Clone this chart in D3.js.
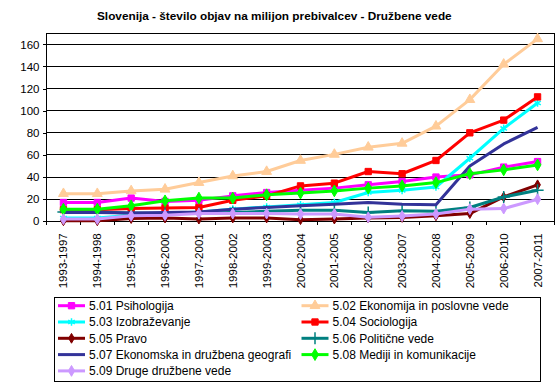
<!DOCTYPE html>
<html><head><meta charset="utf-8">
<script src="https://cdn.jsdelivr.net/npm/d3@7"></script>
<style>body{margin:0;background:#fff}svg text{font-family:"Liberation Sans",Arial,sans-serif}</style>
</head><body><svg id="c" width="559" height="390"></svg>
<script>
const categories = ["1993-1997","1994-1998","1995-1999","1996-2000","1997-2001","1998-2002","1999-2003","2000-2004","2001-2005","2002-2006","2003-2007","2004-2008","2005-2009","2006-2010","2007-2011"];
const psihologija = [17, 17, 21, 18, 19, 23, 26, 28, 30, 33, 36, 40, 42, 49, 54];
const ekonomija = [25, 25, 27.5, 29, 35, 41, 45, 55, 60.5, 67, 70.5, 86, 110, 142, 165];
const izobrazevanje = [3, 3, 5.5, 7, 8.5, 11, 13, 15, 17, 26, 28, 31, 57, 84, 107];
const sociologija = [10.5, 10.5, 11.5, 12, 12.5, 19, 23, 32, 34.5, 45, 43, 55, 80, 91.5, 112.5];
const pravo = [0.5, 0.5, 2.5, 3, 2, 3, 3, 1.5, 2, 3, 3.5, 5, 7, 22, 33];
const politicne = [8.5, 8.5, 7.5, 7, 7, 8, 9, 10, 10, 8, 9.5, 9, 12.5, 22, 28];
const geografija = [8, 8, 7.5, 8, 8.5, 11, 12.5, 14, 15.5, 17, 15.5, 15, 50, 70, 85];
const mediji = [11, 11, 14, 18.5, 21, 21, 24, 25.5, 27.5, 30, 32, 35, 43, 46.5, 51];
const druge = [2, 2, 5, 5.5, 7, 7, 7, 6.6, 6.6, 3.6, 4.8, 6.6, 11, 11.5, 20];
const seriesNames = ["5.01 Psihologija","5.02 Ekonomija in poslovne vede","5.03 Izobraževanje","5.04 Sociologija","5.05 Pravo","5.06 Politične vede","5.07 Ekonomska in družbena geografi","5.08 Mediji in komunikacije","5.09 Druge družbene vede"];
const yTicks = [0,20,40,60,80,100,120,140,160];
const title = "Slovenija - število objav na milijon prebivalcev - Družbene vede";

const seriesValues = [psihologija, ekonomija, izobrazevanje, sociologija, pravo, politicne, geografija, mediji, druge];
const colors = ["#FF00FF","#FFCC99","#00FFFF","#FF0000","#800000","#008080","#333399","#00FF00","#CC99FF"];
const markers = [
  {t:d3.symbolSquare,s:40,fill:true},
  {t:d3.symbolTriangle,s:42,fill:true},
  {t:d3.symbolAsterisk,s:40,fill:false},
  {t:d3.symbolSquare,s:40,fill:true},
  {t:d3.symbolDiamond,s:28,fill:true},
  {t:d3.symbolPlus,s:50,fill:false},
  null,
  {t:d3.symbolDiamond,s:40,fill:true},
  {t:d3.symbolDiamond,s:34,fill:true}
];

const svg = d3.select("#c");
const L = 46.5, R = 554.5, T = 33.3, B = 221.3;
const x = d3.scaleBand().domain(categories).range([L, R]);
const y = d3.scaleLinear().domain([0, 170]).range([B, T]);

svg.append("text").attr("x", 97).attr("y", 20).attr("font-size", "11.8px").attr("font-weight", "bold").text(title);

// gridlines
svg.append("g").selectAll("line").data(yTicks.filter(d => d > 0)).join("line")
  .attr("x1", L).attr("x2", R).attr("y1", d => y(d)).attr("y2", d => y(d))
  .attr("stroke", "#000").attr("stroke-width", 1).attr("shape-rendering", "crispEdges");
svg.append("rect").attr("x", L).attr("y", T).attr("width", R - L).attr("height", B - T)
  .attr("fill", "none").attr("stroke", "#000").attr("shape-rendering", "crispEdges");

// y axis
const ya = svg.append("g").attr("transform", `translate(${L},0)`)
  .call(d3.axisLeft(y).tickValues(yTicks).tickSize(4).tickPadding(3));
ya.select(".domain").remove();
ya.selectAll("line").attr("shape-rendering", "crispEdges");
ya.selectAll("text").attr("font-size", "11.5px").attr("font-family", "Liberation Sans, Arial, sans-serif").attr("fill", "#000");

// x axis
const xa = svg.append("g").attr("transform", `translate(0,${B})`)
  .call(d3.axisBottom(x).tickSize(0));
xa.select(".domain").attr("shape-rendering", "crispEdges");
xa.selectAll("text").attr("font-size", "11.5px").attr("font-family", "Liberation Sans, Arial, sans-serif").attr("fill", "#000")
  .attr("transform", "rotate(-90)").attr("text-anchor", "end").attr("x", -12).attr("y", 0).attr("dy", "0.35em");
const bounds = d3.range(categories.length + 1).map(i => L + i * x.step());
svg.append("g").selectAll("line").data(bounds).join("line")
  .attr("x1", d => d).attr("x2", d => d).attr("y1", B).attr("y2", B + 4)
  .attr("stroke", "#000").attr("shape-rendering", "crispEdges");

const cx = c => x(c) + x.bandwidth() / 2;
const line = d3.line().x((d, i) => cx(categories[i])).y(d => y(d));

function drawMarker(g, m, col, px, py) {
  if (!m) return;
  const p = g.append("path").attr("d", d3.symbol(m.t, m.s)()).attr("transform", `translate(${px},${py})`);
  if (m.fill) p.attr("fill", col).attr("stroke", col).attr("stroke-width", 1);
  else p.attr("fill", "none").attr("stroke", col).attr("stroke-width", 1.5);
}

seriesValues.forEach((vals, si) => {
  const g = svg.append("g");
  g.append("path").attr("d", line(vals)).attr("fill", "none").attr("stroke", colors[si]).attr("stroke-width", 3).attr("stroke-linejoin", "round");
  vals.forEach((v, i) => drawMarker(g, markers[si], colors[si], cx(categories[i]), y(v)));
});

// legend
const lg = svg.append("g");
lg.append("rect").attr("x", 54.5).attr("y", 297.5).attr("width", 486).attr("height", 83.5)
  .attr("fill", "#fff").attr("stroke", "#000").attr("shape-rendering", "crispEdges");
seriesNames.forEach((name, si) => {
  const col = si % 2, row = Math.floor(si / 2);
  const x0 = col === 0 ? 58 : 301.5, yy = 305.7 + row * 16.3;
  lg.append("line").attr("x1", x0).attr("x2", x0 + 27).attr("y1", yy).attr("y2", yy).attr("stroke", colors[si]).attr("stroke-width", 3);
  drawMarker(lg, markers[si], colors[si], x0 + 13.5, yy);
  lg.append("text").attr("x", x0 + 31).attr("y", yy).attr("dy", "0.35em").attr("font-size", "12px").text(name);
});
</script></body></html>
